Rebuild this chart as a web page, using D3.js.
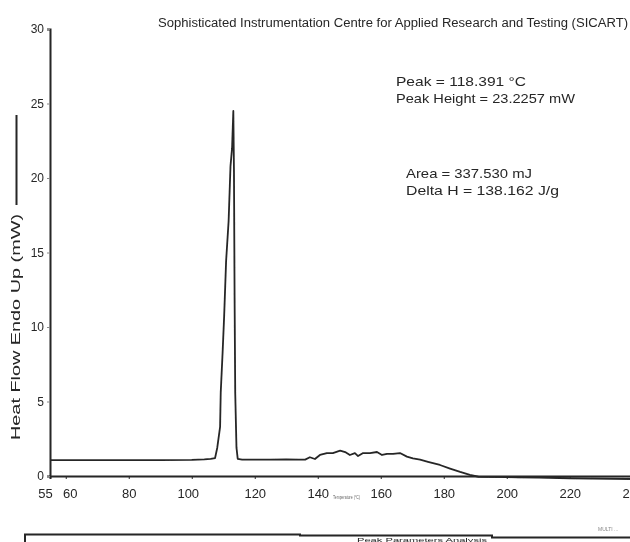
<!DOCTYPE html>
<html>
<head>
<meta charset="utf-8">
<script src="https://cdn.jsdelivr.net/npm/d3@7"></script>
<style>
  html, body { margin: 0; padding: 0; background: #fff; }
  svg { display: block; }
</style>
</head>
<body>
<div id="chart"></div>
<script>
// DSC thermogram (scanned look)
const temps = [55, 70, 90, 100, 104, 106, 107.4, 108.1, 109.0, 109.2, 109.8, 110.3, 110.9, 111.7,
  112.3, 112.8, 113.2, 113.4, 113.6, 113.8, 114.2, 114.6, 116, 120, 125, 130, 134, 136.0, 137.5,
  139.1, 140.7, 142.9, 144.8, 147.1, 148.7, 150.2, 151.8, 152.8, 154.4, 156.6, 158.8, 160.4, 162.0,
  163.9, 166.1, 168.3, 170.2, 172.5, 175, 178.8, 182, 185.2, 188.3, 191, 200, 210, 220, 240];
const heatFlow = [1.07, 1.07, 1.07, 1.08, 1.12, 1.15, 1.2, 1.9, 3.3, 5.6, 8.3, 10.8, 14.4, 17.1,
  20.8, 22.0, 24.5, 20.5, 12.0, 5.6, 1.9, 1.15, 1.1, 1.1, 1.1, 1.12, 1.1, 1.1, 1.26,
  1.14, 1.41, 1.54, 1.54, 1.70, 1.61, 1.41, 1.54, 1.34, 1.54, 1.54, 1.61, 1.41, 1.48,
  1.48, 1.54, 1.30, 1.18, 1.10, 0.95, 0.74, 0.5, 0.27, 0.07, -0.05, -0.08, -0.1, -0.15, -0.2];

const xTicks = [55, 60, 80, 100, 120, 140, 160, 180, 200, 220, 240];
const yTicks = [0, 5, 10, 15, 20, 25, 30];

const title = 'Sophisticated Instrumentation Centre for Applied Research and Testing (SICART)';
const notes = [
  ['Peak = 118.391 °C', 'Peak Height = 23.2257 mW'],
  ['Area = 337.530 mJ', 'Delta H = 138.162 J/g'],
];
const yLabel = 'Heat Flow Endo Up (mW)';
const xLabel = 'Temperature (°C)';

const W = 630, H = 542;
const ink = '#262626';

const svg = d3.select('#chart').append('svg')
  .attr('width', W).attr('height', H)
  .style('font-family', 'Liberation Sans, Arial, sans-serif');

// slight blur so it reads like the scanned original
svg.append('defs').append('filter').attr('id', 'scan')
  .append('feGaussianBlur').attr('stdDeviation', 0.45);

svg.append('rect').attr('width', W).attr('height', H).attr('fill', '#fff');

const g = svg.append('g').attr('filter', 'url(#scan)');

const x = d3.scaleLinear().domain([55, 240]).range([50, 632.75]);
const y = d3.scaleLinear().domain([0, 30]).range([476, 29]);

// Axes
g.append('g')
  .attr('transform', `translate(0,${y(0)})`)
  .call(d3.axisBottom(x).tickValues(xTicks).tickSize(3).tickPadding(10))
  .call(ax => ax.select('.domain').attr('stroke', ink).attr('stroke-width', 2))
  .call(ax => ax.selectAll('line').attr('stroke', ink))
  .call(ax => ax.selectAll('text').attr('font-size', 13).attr('fill', ink)
    .attr('font-family', 'Liberation Sans, Arial, sans-serif')
    .attr('dx', d => d === 55 ? -5 : d === 60 ? 4 : d === 100 ? -4 : 0));

g.append('g')
  .attr('transform', `translate(${x(55)},0)`)
  .call(d3.axisLeft(y).tickValues(yTicks).tickSize(3).tickPadding(3))
  .call(ax => ax.select('.domain').attr('stroke', ink).attr('stroke-width', 2))
  .call(ax => ax.selectAll('line').attr('stroke', '#888'))
  .call(ax => ax.selectAll('text').attr('font-size', 12).attr('fill', ink)
    .attr('font-family', 'Liberation Sans, Arial, sans-serif'));

// Curve
const line = d3.line()
  .x((d, i) => x(temps[i]))
  .y(d => y(d));

g.append('path')
  .datum(heatFlow)
  .attr('d', line)
  .attr('fill', 'none')
  .attr('stroke', ink)
  .attr('stroke-width', 1.8)
  .attr('stroke-linejoin', 'round');

// Title
g.append('text')
  .attr('x', 158).attr('y', 27)
  .attr('font-size', 12).attr('fill', ink)
  .attr('textLength', 470).attr('lengthAdjust', 'spacingAndGlyphs')
  .text(title);

// Annotations
const noteBoxes = [
  { x: 396, y: 86, w: [130, 179] },
  { x: 406, y: 178, w: [126, 153] },
];
notes.forEach((pair, k) => {
  pair.forEach((t, j) => {
    g.append('text')
      .attr('x', noteBoxes[k].x).attr('y', noteBoxes[k].y + j * 17)
      .attr('font-size', 13).attr('fill', ink)
      .attr('textLength', noteBoxes[k].w[j]).attr('lengthAdjust', 'spacingAndGlyphs')
      .text(t);
  });
});

// Y axis title + legend stroke
g.append('text')
  .attr('transform', 'translate(20,440) rotate(-90)')
  .attr('font-size', 13).attr('fill', ink)
  .attr('textLength', 226).attr('lengthAdjust', 'spacingAndGlyphs')
  .text(yLabel);

g.append('line')
  .attr('x1', 16.5).attr('x2', 16.5)
  .attr('y1', 205).attr('y2', 115)
  .attr('stroke', ink).attr('stroke-width', 2);

// tiny x axis caption
g.append('text')
  .attr('x', 333).attr('y', 499)
  .attr('font-size', 5).attr('fill', '#666')
  .attr('textLength', 27).attr('lengthAdjust', 'spacingAndGlyphs')
  .text(xLabel);

// Bottom box of the instrument printout (cut off by the page edge)
g.append('path')
  .attr('d', 'M25,545 L25,534.5 L300,534.5 L300,535.5 L492,535.5 L492,537.5 L630,537.5')
  .attr('fill', 'none').attr('stroke', ink).attr('stroke-width', 2);

g.append('text')
  .attr('x', 357).attr('y', 541.5)
  .attr('font-size', 6).attr('fill', ink)
  .attr('textLength', 130).attr('lengthAdjust', 'spacingAndGlyphs')
  .text('Peak Parameters Analysis');

g.append('text')
  .attr('x', 598).attr('y', 531)
  .attr('font-size', 5).attr('fill', '#888')
  .text('MULTI ...');
</script>
</body>
</html>
